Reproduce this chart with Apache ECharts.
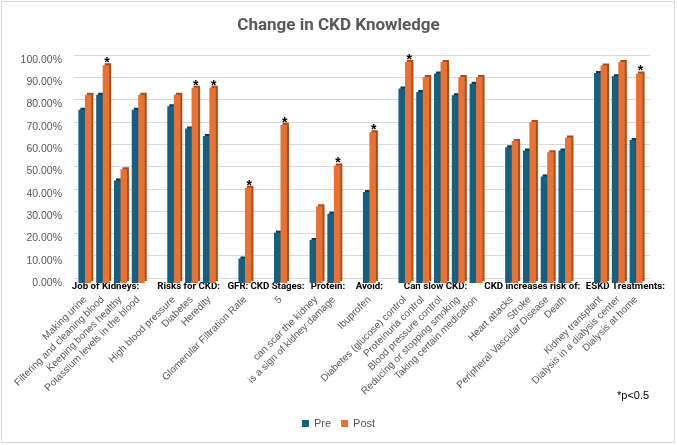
<!DOCTYPE html>
<html>
<head>
<meta charset="utf-8">
<script src="https://cdn.jsdelivr.net/npm/echarts@6/dist/echarts.min.js"></script>
<style>
  html, body { margin: 0; padding: 0; background: #fff; }
  #chart { width: 677px; height: 445px; }
</style>
</head>
<body>
<div id="chart"></div>
<script>
// categories ('' = spacer between topic groups)
const categories = [
  'Making urine', 'Filtering and cleaning blood', 'Keeping bones healthy', 'Potassium levels in the blood', '',
  'High blood pressure', 'Diabetes', 'Heredity', '',
  'Glomerular Filtration Rate', '',
  '5', '',
  'can scar the kidney', 'is a sign of kidney damage', '',
  'Ibuprofen', '',
  'Diabetes (glucose) control', 'Proteinuria control', 'Blood pressure control', 'Reducing or stopping smoking', 'Taking certain medication', '',
  'Heart attacks', 'Stroke', 'Peripheral Vascular Disease', 'Death', '',
  'Kidney transplant', 'Dialysis in a dialysis center', 'Dialysis at home'
]

// percent correct
const preValues = [
  77.7, 84.4, 46.0, 77.7, null,
  79.3, 69.3, 65.9, null,
  11.0, null,
  22.6, null,
  19.3, 31.1, null,
  40.8, null,
  87.2, 85.7, 94.0, 84.2, 89.3, null,
  60.9, 59.4, 47.8, 59.4, null,
  94.2, 92.7, 64.1
]
const postValues = [
  84.4, 97.6, 51.0, 84.4, null,
  84.4, 87.6, 87.6, null,
  42.7, null,
  71.0, null,
  34.4, 52.7, null,
  67.6, null,
  99.1, 92.4, 99.1, 92.4, 92.4, null,
  63.7, 72.2, 58.6, 65.3, null,
  97.5, 99.1, 94.0
]

// indexes of categories marked significant
const sigIndex = [1, 6, 7, 9, 11, 14, 16, 18, 31]

// topic headings and the categories they span
const groupNames = ['Job of Kidneys:', 'Risks for CKD:', 'GFR:', 'CKD Stages:', 'Protein:', 'Avoid:', 'Can slow CKD:', 'CKD increases risk of:', 'ESKD Treatments:']
const groupFirst = [0, 5, 9, 11, 13, 16, 18, 24, 29]
const groupLast = [3, 7, 9, 11, 14, 16, 22, 27, 31]
const groupNudge = [-6, -3, -7, -3, 3, 0, -5, -6, 7] // hand placed text boxes in the original

const txtFont = 'Liberation Sans, Arial, sans-serif'
const headFont = 'Roboto, Liberation Sans, sans-serif'

const chart = echarts.init(document.getElementById('chart'))

chart.setOption({
  animation: false,
  title: {
    text: 'Change in CKD Knowledge',
    left: 'center',
    top: 12,
    textStyle: { fontSize: 17, fontWeight: 'bold', color: '#595959', fontFamily: headFont }
  },
  legend: {
    data: ['Pre', 'Post'],
    left: 'center',
    top: 413,
    icon: 'rect',
    itemWidth: 7,
    itemHeight: 7,
    itemGap: 10,
    textStyle: { fontSize: 11, color: '#595959', fontFamily: txtFont }
  },
  grid: [
    { left: 76, right: 32, top: 60, bottom: 162 },
    // back wall of the 3d look: gridlines sit a little up and right
    { left: 74, right: 27, top: 55, bottom: 167 }
  ],
  xAxis: [
    {
      type: 'category',
      gridIndex: 0,
      data: categories,
      axisLine: { show: false },
      axisTick: { show: false },
      axisLabel: { interval: 0, rotate: 45, margin: 15, fontSize: 10, color: '#595959', fontFamily: txtFont }
    },
    { type: 'category', gridIndex: 1, data: categories, show: false }
  ],
  yAxis: [
    {
      type: 'value',
      gridIndex: 0,
      min: 0,
      max: 100,
      interval: 10,
      axisLine: { show: false },
      axisTick: { show: false },
      splitLine: { show: false },
      axisLabel: {
        margin: 14,
        fontSize: 10.5,
        color: '#595959',
        fontFamily: txtFont,
        formatter: v => v.toFixed(2) + '%'
      }
    },
    {
      type: 'value',
      gridIndex: 1,
      min: 0,
      max: 100,
      interval: 10,
      axisLine: { show: false },
      axisTick: { show: false },
      axisLabel: { show: false },
      splitLine: { lineStyle: { color: '#d9d9d9', width: 1 } }
    }
  ],
  series: [
    {
      name: 'Pre',
      type: 'bar',
      data: preValues,
      barGap: '0%',
      barCategoryGap: '27%',
      itemStyle: { color: '#156082', shadowColor: '#0b3a52', shadowBlur: 0, shadowOffsetX: 2, shadowOffsetY: -2 }
    },
    {
      name: 'Post',
      type: 'bar',
      data: postValues,
      itemStyle: { color: '#E97132', shadowColor: '#a54f1f', shadowBlur: 0, shadowOffsetX: 2, shadowOffsetY: -2 },
      label: {
        show: true,
        position: 'top',
        distance: 0,
        offset: [1, 5],
        fontSize: 14,
        fontWeight: 'bold',
        color: '#000',
        fontFamily: txtFont,
        formatter: p => sigIndex.includes(p.dataIndex) ? '*' : ''
      }
    }
  ]
})

// topic headings sit just under the baseline, centred on their categories
const baseY = chart.convertToPixel({ yAxisIndex: 0 }, 0)
const headings = groupNames.map((name, i) => {
  const x0 = chart.convertToPixel({ xAxisIndex: 0 }, groupFirst[i])
  const x1 = chart.convertToPixel({ xAxisIndex: 0 }, groupLast[i])
  return {
    id: 'head' + i,
    type: 'text',
    silent: true,
    x: (x0 + x1) / 2 + groupNudge[i],
    y: baseY + 4,
    style: {
      text: name,
      fontSize: 9.7,
      fontWeight: 'bold',
      fill: '#000',
      fontFamily: headFont,
      align: 'center',
      verticalAlign: 'middle'
    }
  }
})

chart.setOption({
  graphic: [
    {
      id: 'border',
      type: 'rect',
      silent: true,
      shape: { x: 1.5, y: 1.5, width: 673, height: 441 },
      style: { fill: 'none', stroke: '#d9d9d9', lineWidth: 1 }
    },
    {
      id: 'note',
      type: 'text',
      silent: true,
      x: 617,
      y: 390,
      style: { text: '*p<0.5', fontSize: 11, fill: '#000', fontFamily: txtFont }
    }
  ].concat(headings)
})
</script>
</body>
</html>
